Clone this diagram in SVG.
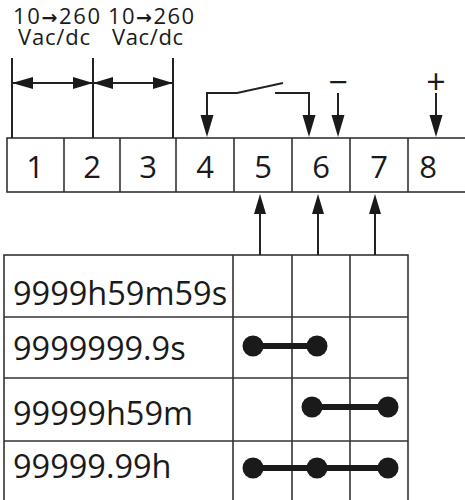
<svg xmlns="http://www.w3.org/2000/svg" width="465" height="500" viewBox="0 0 465 500">
<style>
  .ln { stroke: #222; stroke-width: 2; fill: none; }
  .grid { stroke: #333; stroke-width: 1.6; fill: none; }
  .ah { fill: #1a1a1a; stroke: none; }
  .lbl { font-family: "Open Sans", "Noto Sans", sans-serif; fill: #1a1a1a; }
  .arr { font-family: "DejaVu Sans", sans-serif; font-size: 19px; font-weight: bold; }
  .num { font-size: 31px; text-anchor: middle; }
  .top { font-size: 22px; }
  .row { font-size: 32.5px; }
  .sym { font-size: 34px; text-anchor: middle; }
  .dot { fill: #1a1a1a; }
  .bar { stroke: #1a1a1a; stroke-width: 6; }
</style>
<rect width="465" height="500" fill="#ffffff"/>

<g id="supply-labels">
  <text class="lbl top"><tspan x="13" y="24" textLength="87" lengthAdjust="spacing">10<tspan class="arr">→</tspan>260</tspan><tspan x="18" y="45" textLength="72" lengthAdjust="spacing">Vac/dc</tspan></text>
  <text class="lbl top"><tspan x="108" y="24" textLength="86" lengthAdjust="spacing">10<tspan class="arr">→</tspan>260</tspan><tspan x="112" y="45" textLength="71" lengthAdjust="spacing">Vac/dc</tspan></text>
</g>

<g id="terminal-block">
  <rect class="grid" x="7" y="138" width="461" height="54"/>
  <line class="grid" x1="64" y1="138" x2="64" y2="192"/>
  <line class="grid" x1="120" y1="138" x2="120" y2="192"/>
  <line class="grid" x1="176" y1="138" x2="176" y2="192"/>
  <line class="grid" x1="234" y1="138" x2="234" y2="192"/>
  <line class="grid" x1="292" y1="138" x2="292" y2="192"/>
  <line class="grid" x1="350" y1="138" x2="350" y2="192"/>
  <line class="grid" x1="408" y1="138" x2="408" y2="192"/>
  <text class="lbl num" x="35" y="178">1</text>
  <text class="lbl num" x="92" y="178">2</text>
  <text class="lbl num" x="148" y="178">3</text>
  <text class="lbl num" x="205" y="178">4</text>
  <text class="lbl num" x="263" y="178">5</text>
  <text class="lbl num" x="321" y="178">6</text>
  <text class="lbl num" x="379" y="178">7</text>
  <text class="lbl num" x="428" y="178">8</text>
</g>

<g id="polarity-labels">
  <text class="lbl sym" x="338" y="94">−</text>
  <text class="lbl sym" x="436" y="94">+</text>
</g>

<g id="table">
  <rect class="grid" x="4" y="255" width="404" height="248"/>
  <line class="grid" x1="4" y1="317" x2="408" y2="317"/>
  <line class="grid" x1="4" y1="378" x2="408" y2="378"/>
  <line class="grid" x1="4" y1="441" x2="408" y2="441"/>
  <line class="grid" x1="233" y1="255" x2="233" y2="503"/>
  <line class="grid" x1="292" y1="255" x2="292" y2="503"/>
  <line class="grid" x1="350" y1="255" x2="350" y2="503"/>
  <text class="lbl row" x="13" y="305">9999h59m59s</text>
  <text class="lbl row" x="13" y="360">9999999.9s</text>
  <text class="lbl row" x="13" y="425">99999h59m</text>
  <text class="lbl row" x="13" y="478">99999.99h</text>
</g>

<g id="bridges">
  <line class="bar" x1="253" y1="346" x2="317" y2="346"/>
  <circle class="dot" cx="253" cy="346" r="10.5"/>
  <circle class="dot" cx="317" cy="346" r="10.5"/>
  <line class="bar" x1="312" y1="407" x2="388" y2="407"/>
  <circle class="dot" cx="312" cy="407" r="10.5"/>
  <circle class="dot" cx="388" cy="407" r="10.5"/>
  <line class="bar" x1="253" y1="468" x2="388" y2="468"/>
  <circle class="dot" cx="253" cy="468" r="10.5"/>
  <circle class="dot" cx="317" cy="468" r="10.5"/>
  <circle class="dot" cx="388" cy="468" r="10.5"/>
</g>

<g id="connectors">
  <line class="ln" x1="12" y1="58" x2="12" y2="138"/>
  <line class="ln" x1="93" y1="58" x2="93" y2="138"/>
  <line class="ln" x1="173" y1="58" x2="173" y2="138"/>
  <line class="ln" x1="12" y1="83" x2="173" y2="83"/>
  <polygon class="ah" points="12,83 33,77 33,89"/>
  <polygon class="ah" points="93,83 73,77 73,89"/>
  <polygon class="ah" points="93,83 113,77 113,89"/>
  <polygon class="ah" points="173,83 153,77 153,89"/>
  <polyline class="ln" points="207,116 207,93 237,93 283,83"/>
  <polyline class="ln" points="275,93 309,93 309,116"/>
  <polygon class="ah" points="207,137 200.5,115 213.5,115"/>
  <polygon class="ah" points="309,137 302.5,115 315.5,115"/>
  <line class="ln" x1="338" y1="93" x2="338" y2="116"/>
  <polygon class="ah" points="338,137 331.5,115 344.5,115"/>
  <line class="ln" x1="436" y1="93" x2="436" y2="116"/>
  <polygon class="ah" points="436,137 429.5,115 442.5,115"/>
  <line class="ln" x1="260" y1="212" x2="260" y2="255"/>
  <line class="ln" x1="318" y1="212" x2="318" y2="255"/>
  <line class="ln" x1="375" y1="212" x2="375" y2="255"/>
  <polygon class="ah" points="260,194 254,214 266,214"/>
  <polygon class="ah" points="318,194 312,214 324,214"/>
  <polygon class="ah" points="375,194 369,214 381,214"/>
</g>
</svg>
